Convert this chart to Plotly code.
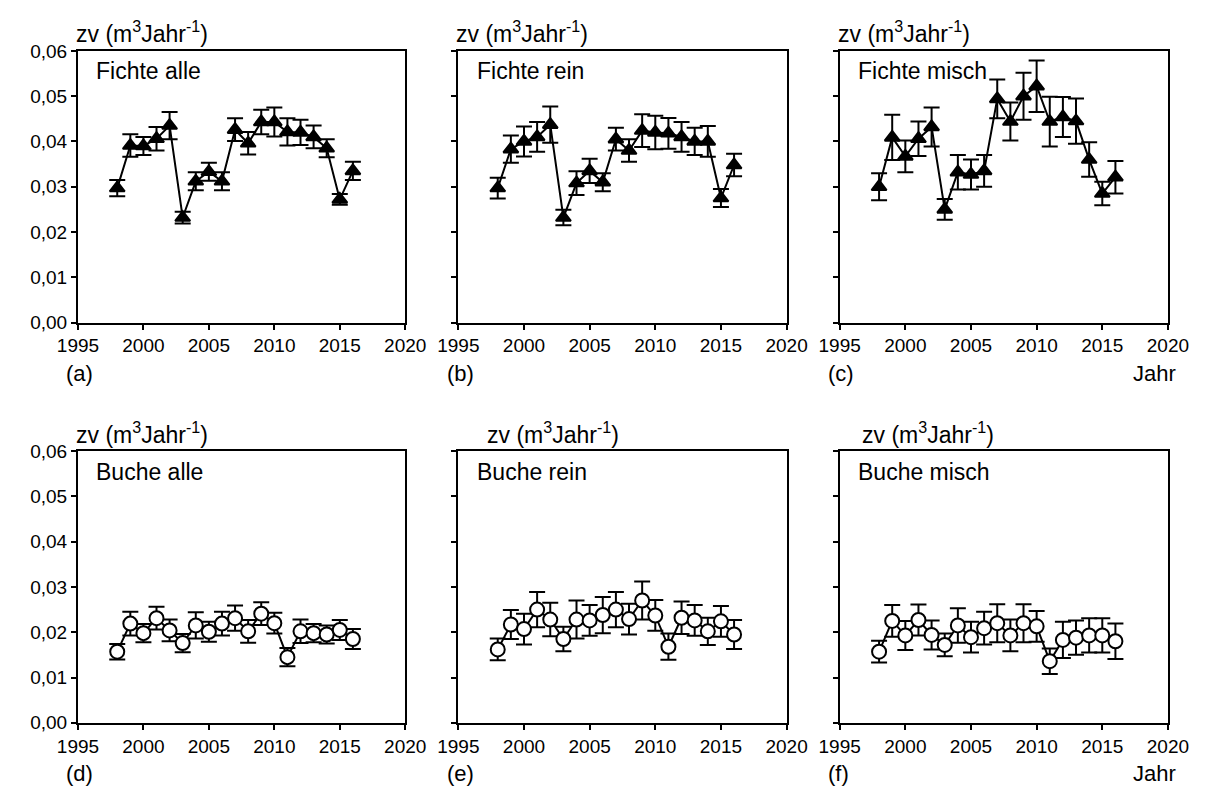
import plotly.graph_objects as go

# Years of observation
years = list(range(1998, 2017))

# Fichte (spruce): mean increment zv and standard error per year
fichte_alle = [0.0297, 0.0391, 0.0390, 0.0406, 0.0435, 0.0232, 0.0312, 0.0333, 0.0312, 0.0426,
               0.0396, 0.0443, 0.0443, 0.0421, 0.0420, 0.0410, 0.0385, 0.0272, 0.0335]
fichte_alle_err = [0.0018, 0.0025, 0.0020, 0.0026, 0.0030, 0.0013, 0.0020, 0.0020, 0.0020, 0.0025,
                   0.0025, 0.0027, 0.0032, 0.0030, 0.0028, 0.0025, 0.0020, 0.0012, 0.0020]

fichte_rein = [0.0297, 0.0383, 0.0400, 0.0410, 0.0437, 0.0232, 0.0308, 0.0335, 0.0310, 0.0405,
               0.0380, 0.0424, 0.0420, 0.0418, 0.0410, 0.0400, 0.0400, 0.0275, 0.0348]
fichte_rein_err = [0.0023, 0.0030, 0.0033, 0.0033, 0.0040, 0.0017, 0.0026, 0.0027, 0.0020, 0.0025,
                   0.0025, 0.0036, 0.0037, 0.0034, 0.0033, 0.0030, 0.0034, 0.0020, 0.0025]

fichte_misch = [0.0300, 0.0409, 0.0367, 0.0406, 0.0432, 0.0250, 0.0332, 0.0327, 0.0335, 0.0494,
                0.0444, 0.0500, 0.0522, 0.0444, 0.0454, 0.0445, 0.0360, 0.0285, 0.0321]
fichte_misch_err = [0.0030, 0.0050, 0.0035, 0.0038, 0.0043, 0.0023, 0.0038, 0.0033, 0.0035, 0.0043,
                    0.0042, 0.0052, 0.0057, 0.0055, 0.0044, 0.0050, 0.0038, 0.0026, 0.0036]

# Buche (beech)
buche_alle = [0.0157, 0.0219, 0.0198, 0.0231, 0.0204, 0.0176, 0.0215, 0.0201, 0.0219, 0.0231,
              0.0202, 0.0241, 0.0220, 0.0145, 0.0202, 0.0198, 0.0195, 0.0205, 0.0185]
buche_alle_err = [0.0017, 0.0026, 0.0020, 0.0025, 0.0024, 0.0020, 0.0029, 0.0022, 0.0026, 0.0028,
                  0.0025, 0.0025, 0.0023, 0.0020, 0.0026, 0.0020, 0.0020, 0.0022, 0.0022]

buche_rein = [0.0162, 0.0217, 0.0207, 0.0250, 0.0228, 0.0185, 0.0228, 0.0226, 0.0238, 0.0250,
              0.0229, 0.0270, 0.0237, 0.0168, 0.0232, 0.0226, 0.0202, 0.0224, 0.0195]
buche_rein_err = [0.0024, 0.0032, 0.0034, 0.0039, 0.0037, 0.0027, 0.0042, 0.0034, 0.0040, 0.0039,
                  0.0034, 0.0042, 0.0034, 0.0029, 0.0036, 0.0034, 0.0030, 0.0034, 0.0032]

buche_misch = [0.0157, 0.0225, 0.0193, 0.0227, 0.0194, 0.0172, 0.0215, 0.0189, 0.0209, 0.0220,
               0.0193, 0.0220, 0.0213, 0.0136, 0.0183, 0.0188, 0.0193, 0.0193, 0.0180]
buche_misch_err = [0.0024, 0.0035, 0.0032, 0.0034, 0.0032, 0.0025, 0.0038, 0.0034, 0.0036, 0.0042,
                   0.0035, 0.0042, 0.0034, 0.0028, 0.0040, 0.0038, 0.0038, 0.0038, 0.0039]

titles = ["Fichte alle", "Fichte rein", "Fichte misch", "Buche alle", "Buche rein", "Buche misch"]
letters = ["(a)", "(b)", "(c)", "(d)", "(e)", "(f)"]
y_unit = "zv (m<sup>3</sup>Jahr<sup>-1</sup>)"
x_ticks = [1995, 2000, 2005, 2010, 2015, 2020]
y_ticks = [0.0, 0.01, 0.02, 0.03, 0.04, 0.05, 0.06]

series = [
    (fichte_alle, fichte_alle_err, "triangle-up"),
    (fichte_rein, fichte_rein_err, "triangle-up"),
    (fichte_misch, fichte_misch_err, "triangle-up"),
    (buche_alle, buche_alle_err, "circle"),
    (buche_rein, buche_rein_err, "circle"),
    (buche_misch, buche_misch_err, "circle"),
]

W, H = 1215, 800
FONT = "Liberation Sans, Arial, sans-serif"


def px(x):
    return x / W


def py(y):
    return 1 - y / H


# Panel frames in pixels: (left, right) columns and (top, bottom) rows
cols = [(59, 398), (453, 793), (848, 1188)]
rows = [(42, 321), (453, 732)]

fig = go.Figure()
annotations = []

for i, (vals, errs, sym) in enumerate(series):
    r, c = divmod(i, 3)
    n = i + 1
    xa = "x" if n == 1 else f"x{n}"
    ya = "y" if n == 1 else f"y{n}"
    filled = sym.startswith("triangle")
    fig.add_trace(go.Scatter(
        x=years, y=vals, xaxis=xa, yaxis=ya, mode="lines+markers",
        line=dict(color="black", width=2),
        marker=dict(symbol=sym, size=13 if filled else 14,
                    color="black" if filled else "white",
                    line=dict(color="black", width=2)),
        error_y=dict(type="data", array=errs, visible=True,
                     color="black", thickness=2, width=8),
        showlegend=False, cliponaxis=False,
    ))
    left, right = cols[c]
    top, bottom = rows[r]
    axis_common = dict(showline=True, linecolor="black", linewidth=2, mirror=True,
                       ticks="outside", ticklen=5, tickwidth=2, tickcolor="black",
                       showgrid=False, zeroline=False,
                       tickfont=dict(family=FONT, size=19, color="black"))
    fig.layout[f"xaxis{'' if n == 1 else n}"] = dict(
        domain=[px(left), px(right)], anchor=ya, range=[1995, 2020],
        tickvals=x_ticks, ticktext=[str(t) for t in x_ticks], **axis_common)
    fig.layout[f"yaxis{'' if n == 1 else n}"] = dict(
        domain=[py(bottom), py(top)], anchor=xa, range=[0, 0.06],
        tickvals=y_ticks, tickformat=".2f", showticklabels=(c == 0), **axis_common)

    # y-axis unit above each panel
    unit_x = left - 4 if r == 0 else [left - 4, left + 28, left + 21][c]
    annotations.append(dict(text=y_unit, x=px(unit_x), y=py(top - 19), xref="paper", yref="paper",
                            xanchor="left", yanchor="middle", showarrow=False,
                            font=dict(family=FONT, size=23, color="black")))
    # panel title inside frame
    annotations.append(dict(text=titles[i], x=px(left + 17), y=py(top + 21), xref="paper", yref="paper",
                            xanchor="left", yanchor="middle", showarrow=False,
                            font=dict(family=FONT, size=23, color="black")))
    # panel letter below x-axis
    annotations.append(dict(text=letters[i], x=px(left - 14), y=py(bottom + 52), xref="paper", yref="paper",
                            xanchor="left", yanchor="middle", showarrow=False,
                            font=dict(family=FONT, size=22, color="black")))
    if c == 2:
        annotations.append(dict(text="Jahr", x=px(1198), y=py(bottom + 52), xref="paper", yref="paper",
                                xanchor="right", yanchor="middle", showarrow=False,
                                font=dict(family=FONT, size=22, color="black")))

fig.update_layout(
    width=W, height=H, margin=dict(l=0, r=0, t=0, b=0),
    paper_bgcolor="white", plot_bgcolor="white",
    separators=",.", annotations=annotations,
    font=dict(family=FONT, color="black"),
)

fig.write_html("out.html", config={"displayModeBar": False})
